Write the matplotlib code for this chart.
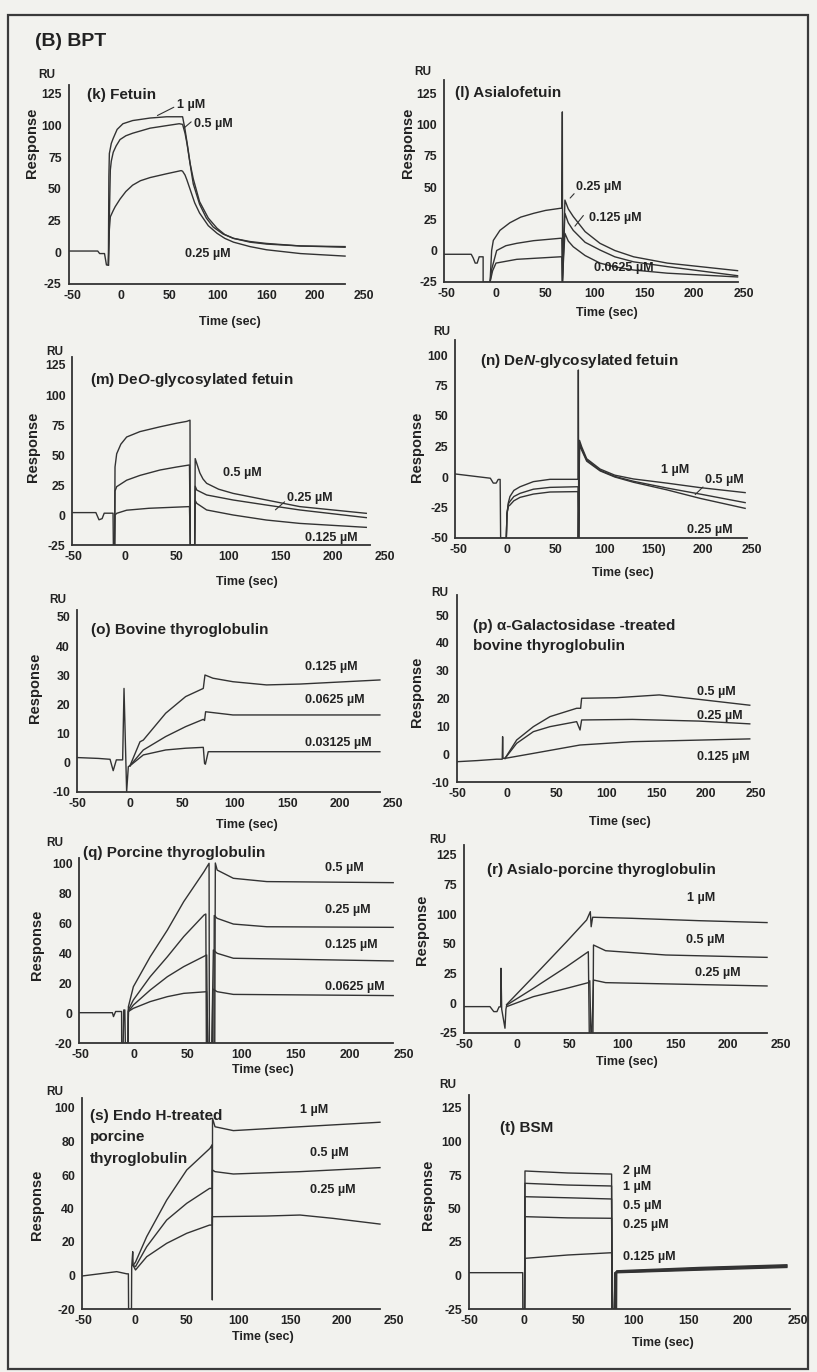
import matplotlib
matplotlib.use("Agg")
import matplotlib.pyplot as plt
from matplotlib.patches import Rectangle

plt.rcParams['font.family'] = ['Liberation Sans', 'DejaVu Sans']
plt.rcParams['font.weight'] = 'bold'
plt.rcParams['mathtext.fontset'] = 'custom'
plt.rcParams['mathtext.it'] = 'Liberation Sans:italic:bold'
plt.rcParams['mathtext.rm'] = 'Liberation Sans:bold'

# ---------------- data: (time [s], response [RU]) ----------------
# (k) Fetuin
k_base = ([-54, -24, -22, -17, -15, -13], [1, 1, -1, -1, -10, -10])
k_1uM = ([-13, -12.5, -12, -10, -8, -4, 2, 12, 30, 47, 63.5, 66, 69, 72, 74.5, 81, 88, 95, 105, 116, 133, 150, 185, 231],
         [-10, 60, 78, 86, 90, 97, 101.5, 104, 106, 107, 107, 97, 82, 66, 54, 38, 27, 20, 14.5, 11, 8.5, 7, 5, 4.5])
k_05uM = ([-13, -11, -10, -8, -5, -1, 5, 12, 30, 47, 60, 63.5, 66, 68, 71, 74.5, 81, 90, 99, 107, 116, 133, 150, 185, 231],
          [-10, 65, 72, 79, 84, 89, 92, 94, 98, 100, 101.5, 101, 94, 86, 71, 58, 40, 27, 19, 14, 11, 8, 6.5, 5, 4])
k_025uM = ([-13, -12, -11, -8, -6, -1, 5, 12, 20, 30, 47, 62, 63.5, 66, 68, 72, 76, 81, 90, 99, 107, 116, 133, 150, 185, 231],
           [-10, 18, 28, 33, 36, 42, 48, 53, 56.5, 59, 62, 64.5, 64, 61, 57, 48, 39, 31, 21, 15, 11, 8, 4.5, 2, -1, -3])

# (l) Asialofetuin
l_base = ([-52.5, -25, -23, -21, -19, -17, -14, -13, -13, -6],
          [-3, -3, -6, -10, -10, -5, -5, -5, -25, -25])
l_025uM = ([-6, -4.4, -2.7, 4, 14, 25, 38, 50, 65, 66.5, 67, 67.3, 69.6, 73, 78, 90, 105, 120, 139, 173, 244],
           [-25, 0, 8, 16, 22, 26.5, 29.5, 31.8, 33.5, 33.5, 110, -25, 40, 33, 27, 15, 5.7, 0, -5, -10, -16])
l_0125uM = ([-6, -4.4, 0.7, 10, 21, 38, 65, 66.5, 67, 69.6, 73, 78, 90, 105, 120, 139, 173, 244],
            [-25, -15, 0, 3.8, 5.7, 7.8, 9.7, 9.7, -25, 29.5, 22, 16, 6.5, 0.4, -5, -9, -12.8, -20])
l_00625uM = ([-6, -3.4, 0, 21, 65, 66.5, 67, 69.6, 73, 78, 90, 105, 120, 139, 173, 244],
             [-25, -16, -10, -7, -5, -5, -25, 13.6, 7.5, 3, -4, -10, -13, -15.5, -18, -21])

# (m) DeO-glycosylated fetuin
m_base = ([-50, -28, -25, -22, -20, -11.5, -11.2, -10], [2, 2, -4, -3, 1.5, 1.5, -25, -25])
m_05uM = ([-10, -9.6, -8, -4, 1.6, 14.4, 33.7, 49.7, 59.3, 62.5, 62.8, 67, 67.5, 69, 72, 75, 78.5, 90, 104, 136, 168, 232],
          [-25, 40, 51, 59, 65, 69.5, 73.5, 76.5, 78, 79, -25, -25, 47, 43, 35, 30, 26.4, 21.5, 18, 12.5, 7, 1.4])
m_025uM = ([-10, -9.6, -8, 1.6, 14.4, 33.7, 49.7, 62, 62.8, 67, 67.5, 69, 78.5, 104, 136, 168, 232],
           [-25, 20, 23.6, 29, 33, 37.5, 40, 41.7, -25, -25, 24, 20.8, 16.7, 12.5, 8.3, 4.2, -2.2])
m_0125uM = ([-10, -9.6, -8, 1.6, 23, 62, 62.8, 67, 67.5, 69, 78.5, 104, 136, 168, 232],
            [-25, 0, 1.4, 4, 5.6, 7, -25, -25, 12, 9.7, 4.2, 0, -4.2, -7, -10.3])

# (n) DeN-glycosylated fetuin
n_base = ([-53, -17, -14, -11, -9, -7, -6.5, -0.7], [2.5, -1, -5, -5, -2, -2, -50, -50])
n_1uM = ([-0.7, 0, 1.4, 3, 7, 13.3, 26.9, 43.9, 71, 72.5, 72.8, 73.2, 74, 76.2, 81.3, 95, 110, 129, 163, 197, 243],
         [-50, -30, -21, -16, -11, -8, -3.8, -1.9, -1.9, -1.9, 87.7, -50, 30, 24.8, 15, 6.5, 1.5, -1.6, -5, -8.7, -12.8])
n_05uM = ([-0.7, 0, 1.4, 3, 7, 13.3, 26.9, 43.9, 71, 72.5, 72.8, 74, 76.2, 81.3, 95, 110, 129, 163, 197, 243],
          [-50, -30, -22, -20, -16, -13.4, -10, -8.5, -8, -8, -50, 28, 23, 14, 5.5, 0.5, -3.5, -9, -14, -21])
n_025uM = ([-0.7, 0, 1.4, 3, 7, 13.3, 26.9, 43.9, 71, 72.5, 72.8, 74, 76.2, 81.3, 95, 110, 129, 163, 197, 243],
           [-50, -30, -24, -23, -19.5, -16.7, -14, -12.3, -12, -12, -50, 26, 22, 13, 5, 0, -4.3, -10.5, -17.5, -25.7])

# (o) Bovine thyroglobulin
o_base = ([-50.5, -30, -19, -16, -13, -7, -5.7, -3.2, -1.6, 0], [1.8, 1.5, 1.2, -2.7, 1, 1, 25.5, -10, -1.3, -1])
o_0125uM = ([0, 9.5, 12.7, 34, 53, 69.8, 71.4, 79, 98, 130, 162, 238],
            [-1, 7.2, 7.8, 17, 22.7, 25.5, 30.1, 29, 27.8, 26.7, 27, 28.4])
o_00625uM = ([0, 12.7, 34, 53, 69.8, 71, 72, 98, 238], [-1, 4.4, 9, 12.4, 14.9, 14.5, 17.5, 16.4, 16.4])
o_003125uM = ([0, 12.7, 34, 53, 69.8, 71, 71.8, 74.5, 98, 238], [-1, 2.7, 4.4, 5, 5.3, -0.2, -0.5, 3.8, 3.8, 3.8])

# (p) alpha-Galactosidase-treated bovine thyroglobulin
p_base = ([-50.5, -30, -10.4, -4.8, -4.4, -4, -2], [-2.7, -2.3, -1.8, -1.8, 6.3, -1.5, -1.5])
p_05uM = ([-2, 9.7, 26.5, 43.2, 70, 74, 75, 110, 153, 193, 244],
          [-1.5, 5.1, 9.9, 13.5, 16.5, 16.5, 20.1, 20.3, 21.3, 19.7, 17.6])
p_025uM = ([-2, 9.7, 26.5, 43.2, 70, 73.4, 75, 126, 193, 244],
           [-1.5, 3.9, 8.1, 9.9, 11.7, 8.7, 12.3, 12.5, 11.9, 10.9])
p_0125uM = ([-2, 26.5, 73.4, 126, 244], [-1.5, 0.3, 3.3, 4.5, 5.5])

# (q) Porcine thyroglobulin
q_base = ([-50.5, -20, -19, -17, -11.5, -11.4, -10, -9.5, -8.5, -8, -5.5],
          [0.2, 0.2, -2.4, 1, 1, -20, -20, 2, 2, -20, -20])
q_05uM = ([-5.5, -5.2, -0.6, 15, 30.9, 46, 64.8, 69.5, 69.8, 74.8, 75.3, 77, 92, 123, 240],
          [-20, 4.2, 17.5, 37.5, 55.3, 74.2, 94.2, 99.8, -20, -20, 100, 95.3, 89.8, 87.6, 86.9])
q_025uM = ([-5.5, -5.2, -0.6, 15, 30.9, 46, 64.8, 66.5, 67, 74, 74.3, 77, 92, 123, 240],
           [-20, 2, 8.7, 24.2, 37.5, 50.9, 65.3, 66, -20, -20, 65, 63.1, 59.3, 57.5, 57.1])
q_0125uM = ([-5.5, -5.2, -0.6, 15, 30.9, 46, 67.3, 68, 72, 73.5, 77, 92, 240],
            [-20, 1, 5.3, 15.3, 24.2, 30.9, 38.7, -20, -20, 42, 39.8, 36.5, 34.7])
q_00625uM = ([-5.5, -5.2, -0.6, 15, 30.9, 46, 67.3, 68.5, 72.5, 73, 77, 92, 240],
             [-20, 1, 3.1, 7.6, 10.9, 13.1, 14.2, -20, -20, 16, 14.2, 12.4, 11.6])

# (r) Asialo-porcine thyroglobulin
r_base = ([-50.5, -25.6, -22, -19, -17, -15.5, -15.2, -14.5, -11.4, -10.5, -9.8],
          [-2.8, -2.8, -7, -7, -3, -3, 29.5, -5, -21, -5, -2])
r_1uM = ([-9.8, 15.5, 47, 66, 69.5, 70.3, 71.7, 109, 172.5, 237],
         [-1, 22.4, 51.9, 70.2, 77.2, 64.5, 72.5, 71.6, 69.6, 68])
r_05uM = ([-9.8, 15.5, 47, 67.6, 68.5, 72, 72.5, 84, 141, 237],
          [-1.5, 12.6, 30.8, 43.5, -25, -25, 49.1, 44.3, 40.7, 38.7])
r_025uM = ([-9.8, 15.5, 47, 67.6, 69, 70, 71, 72.5, 84, 237],
           [-2.8, 5.6, 12.6, 17.4, 19, -25, -25, 19.6, 17.4, 14.6])

# (s) Endo H-treated porcine thyroglobulin
s_base = ([-51.2, -17.7, -8, -6.4, -6.2, -3.4, -3.2, -2.2, -1.8], [-0.3, 2.3, 1, 1, -20, -20, 5, 14.2, 6])
s_1uM = ([-1.8, 0.5, 11.3, 30.6, 50, 72.4, 74.5, 74.7, 74.9, 77.3, 95, 159.4, 236.7],
         [6, 8, 23.2, 45, 63, 75.9, 78, -14.6, 93.8, 88.8, 86.5, 88.8, 91.5])
s_05uM = ([-1.8, 0.5, 11.3, 30.6, 50, 72, 74.7, 74.8, 77.3, 95, 159.4, 236.7],
          [6, 5.3, 17.2, 33.1, 43.1, 52, 52, 63, 62, 60.6, 62, 64.4])
s_025uM = ([-1.8, 0.5, 11.3, 30.6, 50, 72, 74.7, 74.8, 127, 159.4, 191.6, 236.7],
           [6, 3.3, 11.2, 19.2, 25.2, 30.1, 30.1, 35.1, 35.5, 36.1, 34.1, 30.7])

# (t) BSM
t_base = ([-50.5, -1.2, -1.1, 0.5], [2.1, 2.1, -25, -25])
t_2uM = ([0.5, 0.9, 40, 80, 80.2, 84.5, 84.7, 160, 240], [-25, 78, 76.5, 75.7, -25, -25, 3.5, 6, 8])
t_1uM = ([0.5, 0.9, 40, 80, 80.4, 84, 84.3, 160, 240], [-25, 68.8, 67.5, 66.8, -25, -25, 3, 5.5, 7.5])
t_05uM = ([0.5, 0.9, 40, 80, 80.6, 83.5, 83.8, 160, 240], [-25, 58.8, 58, 57.1, -25, -25, 2.5, 5, 7])
t_025uM = ([0.5, 0.9, 40, 80, 80.8, 83, 83.3, 160, 240], [-25, 43.9, 43, 42.7, -25, -25, 2.3, 4.5, 6.5])
t_0125uM = ([0.5, 0.9, 40, 80, 81, 82.5, 82.8, 160, 240], [-25, 12.8, 15.3, 17, -25, -25, 2, 4, 6])

# tick values / labels
x_ticks = [-50, 0, 50, 100, 150, 200, 250]
x_labels_std = ['-50', '0', '50', '100', '150', '200', '250']
x_labels_k = ['-50', '0', '50', '100', '160', '200', '250']
x_labels_n = ['-50', '0', '50', '100', '150)', '200', '250']
y_ticks_125 = [-25, 0, 25, 50, 75, 100, 125]
y_ticks_100 = [-50, -25, 0, 25, 50, 75, 100]
y_ticks_50 = [-10, 0, 10, 20, 30, 40, 50]
y_ticks_20 = [-20, 0, 20, 40, 60, 80, 100]
y_labels_r = ['-25', '0', '25', '50', '100', '75', '125']

# concentration labels: (text, t, RU)
k_conc = [('1 µM', 58, 116), ('0.5 µM', 75, 101), ('0.25 µM', 66, -1)]
l_conc = [('0.25 µM', 81, 50.6), ('0.125 µM', 94.3, 25.5), ('0.0625 µM', 99.3, -14.1)]
m_conc = [('0.5 µM', 94, 34.7), ('0.25 µM', 155.5, 13.9), ('0.125 µM', 173, -19.4)]
n_conc = [('1 µM', 156.8, 5.7), ('0.5 µM', 202, -2.5), ('0.25 µM', 183.3, -43.4)]
o_conc = [('0.125 µM', 166.7, 33), ('0.0625 µM', 166.7, 21.5), ('0.03125 µM', 166.7, 6.9)]
p_conc = [('0.5 µM', 190.6, 22.5), ('0.25 µM', 190.6, 13.7), ('0.125 µM', 190.6, -0.9)]
q_conc = [('0.5 µM', 176.9, 96.4), ('0.25 µM', 176.9, 68.7), ('0.125 µM', 176.9, 45.3), ('0.0625 µM', 176.9, 17.5)]
r_conc = [('1 µM', 160.8, 88.5), ('0.5 µM', 160.2, 53.3), ('0.25 µM', 168.7, 25.3)]
s_conc = [('1 µM', 159.4, 98.8), ('0.5 µM', 169, 73), ('0.25 µM', 169, 51)]
t_conc = [('2 µM', 90.7, 78.2), ('1 µM', 90.7, 65.8), ('0.5 µM', 90.7, 51.9), ('0.25 µM', 90.7, 37.7), ('0.125 µM', 90.7, 14)]

# leader lines: ((t0, v0), (t1, v1))
k_leaders = [((35, 107), (57, 115.5)), ((62.5, 96.5), (74.5, 104.4))]
l_leaders = [((73, 40), (80.8, 46.7)), ((78, 17.6), (90, 29.5))]
m_leaders = [((142.6, 2.8), (155.5, 12.5))]
n_leaders = [((190, -16), (202, -6.6))]

# ---------------- figure ----------------
W, H = 817, 1372
BG = '#f2f2ee'
LC = '#333333'
TC = '#222222'
XMAX = 256

fig = plt.figure(figsize=(W / 100, H / 100), dpi=100, facecolor=BG)


def fx(px):
    return px / W


def fy(py):
    return 1 - py / H


# panel layouts: pixel mapping (x0, x-scale, left limit, axis end, y0, y-scale, ylim bottom, ylim top)
panels = [
    dict(curves=[k_base, k_1uM, k_05uM, k_025uM], map=(121, 0.97, -54, 231, 252.3, 1.2667, -25, 132),
         yt=y_ticks_125, yl=None, xl=x_labels_k, title='(k) Fetuin', tpos=(-34.7, 124.2), ls=1.2,
         conc=k_conc, lead=k_leaders, ru=(47, 75), resp=(32, 143), time=(230, 322)),
    dict(curves=[l_base, l_025uM, l_0125uM, l_00625uM], map=(496, 0.99, -52.5, 244, 250.5, 1.26, -25, 135),
         yt=y_ticks_125, yl=None, xl=x_labels_std, title='(l) Asialofetuin', tpos=(-41.4, 125), ls=1.2,
         conc=l_conc, lead=l_leaders, ru=(423, 72), resp=(408, 143), time=(607, 313)),
    dict(curves=[m_base, m_05uM, m_025uM, m_0125uM], map=(125, 1.04, -50.5, 235.6, 515, 1.2, -25, 131.7),
         yt=y_ticks_125, yl=None, xl=x_labels_std, title='(m) De$\\mathit{O}$-glycosylated fetuin',
         tpos=(-33.7, 112.5), ls=1.2,
         conc=m_conc, lead=m_leaders, ru=(55, 352), resp=(33, 447), time=(247, 582)),
    dict(curves=[n_base, n_1uM, n_05uM, n_025uM], map=(507, 0.98, -53, 245, 477, 1.22, -50, 112.3),
         yt=y_ticks_100, yl=None, xl=x_labels_n, title='(n) De$\\mathit{N}$-glycosylated fetuin',
         tpos=(-27.6, 94.7), ls=1.2,
         conc=n_conc, lead=n_leaders, ru=(442, 332), resp=(417, 447), time=(623, 573)),
    dict(curves=[o_base, o_0125uM, o_00625uM, o_003125uM], map=(130, 1.05, -50.5, 238, 762.8, 2.917, -10, 52.4),
         yt=y_ticks_50, yl=None, xl=x_labels_std, title='(o) Bovine thyroglobulin', tpos=(-37.4, 45.5), ls=1.2,
         conc=o_conc, lead=[], ru=(58, 600), resp=(35, 688), time=(247, 825)),
    dict(curves=[p_base, p_05uM, p_025uM, p_0125uM], map=(507, 0.995, -50.5, 244, 754.2, 2.783, -10, 57.2),
         yt=y_ticks_50, yl=None, xl=x_labels_std,
         title='(p) α-Galactosidase -treated\nbovine thyroglobulin', tpos=(-34.5, 42.5), ls=1.55,
         conc=p_conc, lead=[], ru=(440, 593), resp=(417, 692), time=(620, 822)),
    dict(curves=[q_base, q_05uM, q_025uM, q_0125uM, q_00625uM], map=(134, 1.08, -50.5, 240, 1013, 1.5, -20, 103.3),
         yt=y_ticks_20, yl=None, xl=x_labels_std, title='(q) Porcine thyroglobulin', tpos=(-46.9, 106.4), ls=1.2,
         conc=q_conc, lead=[], ru=(55, 843), resp=(37, 945), time=(263, 1070)),
    dict(curves=[r_base, r_1uM, r_05uM, r_025uM], map=(517, 1.055, -50.5, 237, 1003.3, 1.187, -25, 133.5),
         yt=y_ticks_125, yl=y_labels_r, xl=x_labels_std, title='(r) Asialo-porcine thyroglobulin',
         tpos=(-28.7, 112.3), ls=1.2,
         conc=r_conc, lead=[], ru=(438, 840), resp=(422, 930), time=(627, 1062)),
    dict(curves=[s_base, s_1uM, s_05uM, s_025uM], map=(135, 1.035, -51.2, 236.7, 1275.5, 1.675, -20, 106),
         yt=y_ticks_20, yl=None, xl=x_labels_std, title='(s) Endo H-treated\nporcine\nthyroglobulin',
         tpos=(-43.5, 82.4), ls=1.7,
         conc=s_conc, lead=[], ru=(55, 1092), resp=(37, 1205), time=(263, 1337)),
    dict(curves=[t_base, t_2uM, t_1uM, t_05uM, t_025uM, t_0125uM], map=(524, 1.095, -50.5, 243, 1275.5, 1.34, -25, 134.7),
         yt=y_ticks_125, yl=None, xl=x_labels_std, title='(t) BSM', tpos=(-21.9, 109.8), ls=1.2,
         conc=t_conc, lead=[], ru=(448, 1085), resp=(428, 1195), time=(663, 1343)),
]

for p in panels:
    x0, xs, xlo, xend, y0, ys, yb, ytop = p['map']
    left = x0 + xlo * xs
    right = x0 + XMAX * xs
    top = y0 - ytop * ys
    bottom = y0 - yb * ys
    ax = fig.add_axes([fx(left), fy(bottom), (right - left) / W, (bottom - top) / H])
    ax.patch.set_alpha(0)
    ax.set_xlim(xlo, XMAX)
    ax.set_ylim(yb, ytop)
    for t, v in p['curves']:
        ax.plot(t, v, color=LC, lw=1.0, solid_joinstyle='round')
    for sp in ('top', 'right'):
        ax.spines[sp].set_visible(False)
    for sp in ('left', 'bottom'):
        ax.spines[sp].set_color(LC)
        ax.spines[sp].set_linewidth(1.3)
    ax.spines['bottom'].set_bounds(xlo, xend)
    ax.set_xticks(x_ticks)
    ax.set_xticklabels(p['xl'])
    ax.set_yticks(p['yt'])
    ax.set_yticklabels(p['yl'] if p['yl'] else [str(v) for v in p['yt']])
    ax.tick_params(axis='x', length=0, pad=4, labelsize=8.8, labelcolor=TC)
    ax.tick_params(axis='y', length=0, pad=5, labelsize=8.8, labelcolor=TC)
    for lab in ax.get_xticklabels() + ax.get_yticklabels():
        lab.set_fontweight('bold')
    ax.text(p['tpos'][0], p['tpos'][1], p['title'], ha='left', va='center', fontsize=11,
            fontweight='bold', color=TC, linespacing=p['ls'])
    for txt, tx, ty in p['conc']:
        ax.text(tx, ty, txt, ha='left', va='center', fontsize=9, fontweight='bold', color=TC)
    for (a, b) in p['lead']:
        ax.annotate('', xy=a, xytext=b, arrowprops=dict(arrowstyle='-', lw=0.8, color=LC))
    fig.text(fx(p['ru'][0]), fy(p['ru'][1]), 'RU', ha='center', va='center', fontsize=8.5,
             fontweight='bold', color=TC)
    fig.text(fx(p['resp'][0]), fy(p['resp'][1]), 'Response', ha='center', va='center', rotation=90,
             fontsize=10.5, fontweight='bold', color=TC)
    fig.text(fx(p['time'][0]), fy(p['time'][1]), 'Time (sec)', ha='center', va='center', fontsize=9,
             fontweight='bold', color=TC)

fig.text(fx(35), fy(41), '(B) BPT', ha='left', va='center', fontsize=14, fontweight='bold', color=TC)
fig.add_artist(Rectangle((fx(8), fy(1369)), 800 / W, (1369 - 15) / H, transform=fig.transFigure,
                         fill=False, lw=1.6, ec='#3a3a3a'))

fig.savefig('out.png', dpi=100, facecolor=BG)
